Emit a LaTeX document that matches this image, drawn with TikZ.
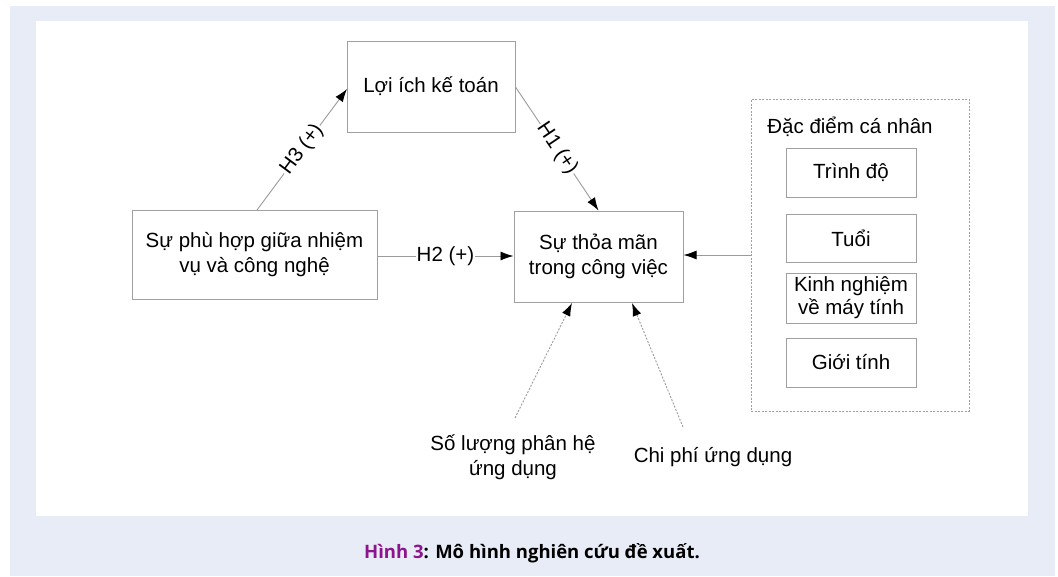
\documentclass[tikz,border=0pt]{standalone}
\usepackage{fontspec}
\setmainfont{Liberation Sans}
\newfontfamily\capfont{Open Sans}
\usetikzlibrary{arrows.meta}
\definecolor{bgblue}{RGB}{232,236,246}
\definecolor{boxgray}{RGB}{160,160,160}
\definecolor{linegray}{RGB}{155,155,155}
\definecolor{capurple}{RGB}{140,20,140}
\tikzset{
  bx/.style={draw=boxgray, line width=1pt, fill=white, inner sep=0pt, align=center, font=\fontsize{20.5}{25}\selectfont},
  lbl/.style={align=center, font=\fontsize{20.5}{25}\selectfont},
  conn/.style={draw=linegray, line width=0.9pt, -{Latex[length=13pt,width=9pt,color=black]}},
  dconn/.style={draw=linegray, line width=0.9pt, dash pattern=on 2pt off 1.5pt, -{Latex[length=13pt,width=9pt,color=black]}},
  elbl/.style={fill=white, inner sep=1pt, font=\fontsize{20.5}{25}\selectfont}
}
\begin{document}
\begin{tikzpicture}[x=1pt,y=-1pt]
\useasboundingbox (0,0) rectangle (1058,576);
\fill[bgblue] (10,6) rectangle (1055,576);
\fill[white] (36,21) rectangle (1028,516);
% main boxes
\node[bx, minimum width=168pt, minimum height=91pt] (loi) at (431,86.5) {L\d{ơ}i ích kế toán};
\node[bx, minimum width=245pt, minimum height=89pt] (phu) at (254.5,254.5) {Sự phù hợp giữa nhiệm\\vụ và công nghệ};
\node[bx, minimum width=169pt, minimum height=91pt] (sat) at (598.5,256.5) {Sự thỏa mãn\\trong công việc};
% personal characteristics group
\node[draw=boxgray, line width=0.9pt, dash pattern=on 2pt off 1.5pt, minimum width=218pt, minimum height=312pt, inner sep=0pt] (pers) at (860,255) {};
\node[lbl] (perst) at (850,127) {Đặc điểm cá nhân};
\node[bx, minimum width=130pt, minimum height=49pt] (td) at (851,172.5) {Trình độ};
\node[bx, minimum width=130pt, minimum height=48pt] (tu) at (851,238) {Tuổi};
\node[bx, minimum width=130pt, minimum height=50pt, font=\fontsize{20.5}{23}\selectfont] (kn) at (851,298) {Kinh nghiệm\\về máy tính};
\node[bx, minimum width=130pt, minimum height=49pt] (gt) at (851,362.5) {Giới tính};
% bottom labels
\node[lbl] (sl) at (513,457) {Số lượng phân hệ\\ứng dụng};
\node[lbl] (cp) at (713,457) {Chi phí ứng dụng};
\coordinate (slc) at (515,418);
\coordinate (cpc) at (683,427);
% connectors
\draw[conn] (257,210) -- node[elbl, sloped] {H3 (+)} (347,89);
\draw[conn] (loi.east |- 0,87) -- node[elbl, sloped] {H1 (+)} (sat.north);
\draw[conn] (phu.east |- 0,256) -- node[elbl] {H2 (+)} (sat.west |- 0,256);
\draw[conn] (pers.west) -- (sat.east |- pers.west);
\draw[dconn] (slc) -- (572,303);
\draw[dconn] (cpc) -- (632,303);
% caption
\node[font=\capfont\bfseries\fontsize{18.5}{22}\selectfont] (cap) at (532,553) {\textcolor{capurple}{Hình 3}: Mô hình nghiên cứu đề xuất.};
\end{tikzpicture}
\end{document}
